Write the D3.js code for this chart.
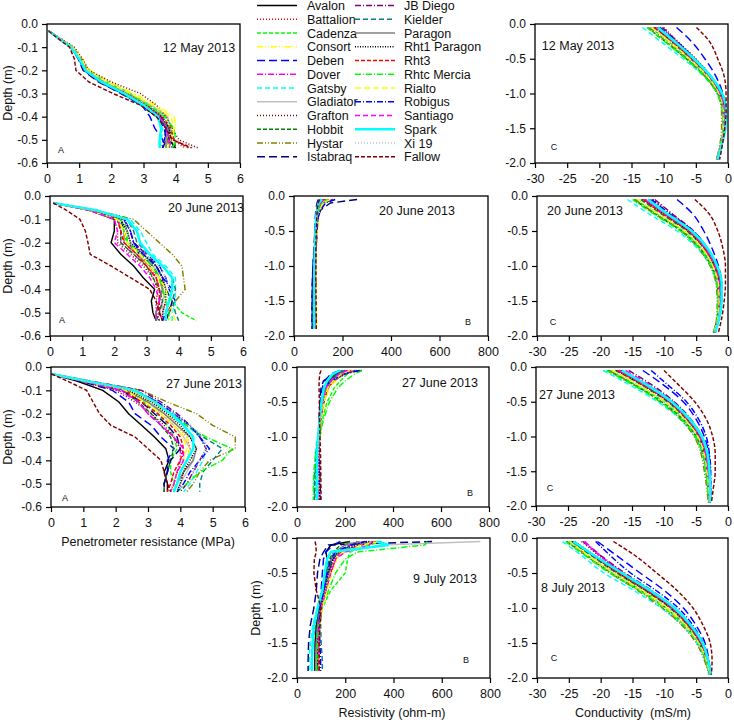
<!DOCTYPE html>
<html><head><meta charset="utf-8">
<script src="https://cdn.jsdelivr.net/npm/d3@7"></script>
<style>
body{margin:0;background:#fff;}
svg{font-family:"Liberation Sans",Arial,sans-serif;}
</style></head>
<body><svg id="c" width="734" height="720"></svg>
<script>
const varieties = ["Avalon","Battalion","Cadenza","Consort","Deben","Dover","Gatsby","Gladiator","Grafton","Hobbit","Hystar","Istabraq","JB Diego","Kielder","Paragon","Rht1 Paragon","Rht3","Rhtc Mercia","Rialto","Robigus","Santiago","Spark","Xi 19","Fallow"];

// depth grids (m)
const depthPen = [-0.03,-0.06,-0.1,-0.15,-0.2,-0.25,-0.3,-0.35,-0.4,-0.45,-0.5,-0.535];
const depthRes = [-0.05,-0.1,-0.2,-0.3,-0.5,-0.75,-1.0,-1.25,-1.5,-1.75,-1.9];
const depthCond = [-0.05,-0.25,-0.5,-0.75,-1.0,-1.25,-1.5,-1.75,-1.95];

// tick labels
const ticksPenX = [0,1,2,3,4,5,6];
const ticksPenY = [0,-0.1,-0.2,-0.3,-0.4,-0.5,-0.6];
const ticksResX = [0,200,400,600,800];
const ticksDeepY = [0,-0.5,-1.0,-1.5,-2.0];
const ticksCondX = [-30,-25,-20,-15,-10,-5,0];

// Penetrometer resistance (MPa), one row per variety
const pen12May = [
[0.05,0.35,0.78,1.02,1.25,1.75,2.45,3.05,3.5,3.7,3.8,4.0],
[0.05,0.33,0.72,0.98,1.2,1.8,2.5,3.1,3.6,3.8,3.9,4.3],
[0.06,0.38,0.8,1.05,1.3,1.9,2.6,3.2,3.7,3.9,3.85,3.7],
[0.05,0.36,0.82,1.1,1.35,1.95,2.7,3.4,3.95,4.0,3.8,3.6],
[0.05,0.34,0.75,1.0,1.2,1.7,2.35,2.95,3.2,3.35,3.6,3.6],
[0.05,0.35,0.77,1.03,1.22,1.72,2.4,3.0,3.45,3.7,3.75,3.8],
[0.04,0.34,0.74,0.98,1.15,1.6,2.3,2.9,3.4,3.6,3.55,3.5],
[0.05,0.37,0.8,1.08,1.3,1.85,2.55,3.25,3.75,3.85,3.7,3.7],
[0.05,0.4,0.85,1.1,1.3,2.0,2.9,3.4,3.7,3.9,4.1,4.7],
[0.05,0.35,0.76,1.0,1.18,1.68,2.38,3.0,3.55,3.85,3.95,4.0],
[0.05,0.36,0.79,1.05,1.25,1.78,2.5,3.1,3.6,3.8,3.75,3.8],
[0.05,0.33,0.73,0.97,1.12,1.6,2.3,2.95,3.4,3.65,3.7,3.6],
[0.05,0.35,0.78,1.02,1.2,1.72,2.42,3.05,3.55,3.75,3.8,3.9],
[0.05,0.36,0.8,1.04,1.22,1.75,2.5,3.1,3.6,3.8,3.85,3.8],
[0.05,0.34,0.76,1.0,1.17,1.65,2.35,3.0,3.5,3.75,3.7,3.7],
[0.05,0.35,0.77,1.02,1.2,1.7,2.45,3.05,3.55,3.8,3.85,3.95],
[0.05,0.36,0.78,1.03,1.22,1.74,2.48,3.08,3.6,3.85,3.95,4.4],
[0.05,0.35,0.79,1.04,1.25,1.8,2.55,3.15,3.65,3.95,4.0,3.9],
[0.05,0.37,0.8,1.06,1.28,1.85,2.6,3.3,3.85,3.95,3.85,3.75],
[0.05,0.34,0.74,0.99,1.15,1.65,2.35,2.95,3.45,3.7,3.65,3.55],
[0.05,0.35,0.76,1.01,1.2,1.7,2.4,3.0,3.5,3.7,3.8,3.85],
[0.05,0.34,0.75,1.0,1.2,1.7,2.4,3.0,3.45,3.55,3.5,3.5],
[0.05,0.36,0.78,1.04,1.25,1.8,2.5,3.1,3.6,3.85,4.0,4.6],
[0.05,0.32,0.7,0.85,0.9,1.3,2.05,2.9,3.4,3.7,3.9,4.5]];
const pen20Jun = [
[0.1,1.2,2.0,2.0,1.9,2.2,2.6,2.9,3.25,3.15,3.2,3.3],
[0.1,1.3,2.2,2.4,2.5,2.8,3.1,3.3,3.5,3.6,3.5,3.6],
[0.1,1.3,2.3,2.4,2.4,2.9,3.3,3.5,3.6,3.8,4.1,4.55],
[0.1,1.2,2.1,2.3,2.3,2.7,3.0,3.3,3.5,3.7,3.6,3.7],
[0.1,1.3,2.3,2.5,2.6,3.0,3.4,3.6,3.7,3.9,3.7,3.6],
[0.1,1.2,2.1,2.2,2.2,2.6,3.0,3.3,3.4,3.5,3.4,3.5],
[0.1,1.4,2.5,2.8,3.0,3.2,3.6,3.9,3.9,3.9,3.8,3.8],
[0.1,1.3,2.2,2.4,2.5,2.9,3.2,3.5,3.6,3.5,3.5,3.5],
[0.1,1.2,2.0,2.1,2.1,2.5,2.9,3.2,3.35,3.3,3.3,3.4],
[0.1,1.2,2.1,2.2,2.2,2.6,3.0,3.2,3.4,3.5,3.4,3.3],
[0.1,1.4,2.6,3.0,3.4,3.8,4.1,4.15,4.2,3.9,3.6,3.6],
[0.1,1.3,2.2,2.3,2.4,2.8,3.2,3.4,3.6,3.8,3.7,3.6],
[0.1,1.3,2.3,2.5,2.6,3.0,3.3,3.5,3.5,3.4,3.3,3.4],
[0.1,1.4,2.4,2.6,2.7,3.1,3.5,3.8,3.9,3.8,3.9,4.0],
[0.1,1.2,2.1,2.3,2.3,2.7,3.1,3.4,3.5,3.4,3.3,3.3],
[0.1,1.3,2.2,2.4,2.5,2.9,3.3,3.5,3.6,3.6,3.5,3.5],
[0.1,1.2,2.1,2.2,2.3,2.7,3.0,3.3,3.4,3.4,3.4,3.5],
[0.1,1.3,2.2,2.3,2.4,2.8,3.2,3.4,3.5,3.6,3.7,3.7],
[0.1,1.2,2.1,2.3,2.4,2.8,3.1,3.4,3.6,3.7,3.8,3.9],
[0.1,1.3,2.3,2.5,2.6,2.9,3.3,3.5,3.8,3.7,3.6,3.5],
[0.1,1.2,2.0,2.1,2.0,2.4,2.8,3.1,3.3,3.4,3.3,3.3],
[0.1,1.4,2.4,2.7,2.8,3.1,3.5,3.8,3.8,3.7,3.6,3.6],
[0.1,1.3,2.3,2.5,2.7,3.0,3.4,3.6,3.7,3.6,3.7,3.8],
[0.1,0.5,0.93,1.1,1.18,1.25,1.9,2.5,3.1,3.3,3.4,3.5]];
const pen27Jun = [
[0.02,0.8,1.6,2.1,2.4,2.8,3.2,3.55,3.65,3.5,3.6,3.6],
[0.02,1.0,2.3,3.0,3.5,3.9,4.2,4.3,4.2,4.1,4.0,3.9],
[0.02,1.0,2.2,2.9,3.3,3.6,3.8,3.9,3.7,3.7,3.8,3.8],
[0.02,1.1,2.4,3.1,3.6,3.9,4.2,4.3,4.2,4.0,3.9,3.8],
[0.02,0.9,1.9,2.4,2.6,3.1,3.4,3.8,3.6,3.6,3.5,3.5],
[0.02,1.0,2.1,2.7,3.0,3.4,3.8,4.0,4.0,3.9,3.8,3.7],
[0.02,1.1,2.5,3.3,3.8,4.2,4.6,4.8,4.7,4.5,4.3,4.1],
[0.02,1.0,2.3,3.0,3.4,3.8,4.1,4.3,4.4,4.2,4.0,3.9],
[0.02,0.9,2.0,2.6,3.1,3.5,3.8,4.0,4.1,3.9,3.8,3.7],
[0.02,1.0,2.2,2.7,3.1,3.4,3.7,3.8,3.7,3.6,3.5,3.5],
[0.02,1.2,2.8,3.6,4.5,5.0,5.7,5.7,4.9,4.6,4.4,4.2],
[0.02,1.0,2.2,2.8,3.2,3.6,3.9,4.0,3.7,3.6,3.5,3.5],
[0.02,1.2,2.8,3.4,3.9,4.3,4.6,4.8,4.6,4.4,4.2,4.0],
[0.02,1.1,2.6,3.3,3.7,4.2,4.7,5.3,5.0,4.7,4.6,4.6],
[0.02,1.0,2.3,3.0,3.5,3.9,4.3,4.5,4.4,4.1,3.9,3.8],
[0.02,1.0,2.4,3.1,3.6,4.0,4.3,4.5,4.3,4.1,4.0,3.9],
[0.02,1.0,2.3,2.8,3.3,3.7,4.0,4.1,4.0,3.8,3.7,3.6],
[0.02,1.1,2.5,3.2,3.7,4.2,4.8,5.6,5.3,4.6,4.2,3.9],
[0.02,1.0,2.3,2.9,3.4,3.8,4.1,4.2,4.1,3.9,3.8,3.7],
[0.02,1.1,2.6,3.3,3.8,4.3,4.6,4.9,4.6,4.3,4.1,3.9],
[0.02,1.0,2.2,2.7,3.0,3.4,3.8,4.1,4.1,3.9,3.8,3.7],
[0.02,1.1,2.6,3.2,3.7,4.1,4.4,4.4,4.2,4.0,3.9,3.8],
[0.02,1.1,2.5,3.2,3.8,4.3,4.7,4.8,4.6,4.4,4.3,4.2],
[0.02,0.5,1.1,1.3,1.5,1.85,2.6,3.0,3.4,3.5,3.6,3.7]];

// Resistivity (ohm-m)
const res20Jun = [
[110,100,95,92,90,88,85,84,84,84,84],
[130,110,100,95,92,90,88,88,87,87,87],
[120,105,98,94,92,88,84,82,80,80,80],
[140,115,105,100,96,92,90,90,90,90,90],
[100,95,90,88,86,82,78,76,75,75,75],
[125,108,100,95,92,89,86,85,85,85,85],
[110,100,94,90,88,85,82,80,80,79,79],
[150,120,105,98,94,90,87,86,86,86,86],
[135,112,102,97,93,90,88,88,88,88,88],
[105,98,93,90,88,85,82,80,79,79,79],
[145,118,106,99,95,92,90,90,90,91,91],
[260,150,110,98,90,84,78,75,74,74,74],
[160,125,108,100,95,91,89,89,89,90,90],
[115,102,96,92,89,86,83,82,81,81,81],
[120,106,98,94,91,88,86,85,85,85,85],
[130,110,100,95,92,89,87,87,87,87,87],
[125,108,99,94,91,88,86,86,86,86,86],
[140,114,103,97,93,89,85,83,82,82,82],
[150,120,108,101,96,92,90,91,92,93,93],
[170,130,110,100,94,90,87,86,86,86,86],
[120,105,98,94,91,88,86,86,86,86,86],
[115,102,96,92,89,86,84,84,84,84,84],
[135,113,102,96,92,89,87,86,86,86,86],
[105,100,96,94,92,90,90,90,91,92,92]];
const res27Jun = [
[200,160,130,115,105,95,90,85,84,84,84],
[250,200,150,125,110,98,92,90,90,90,90],
[230,210,180,155,125,105,95,88,86,86,86],
[210,190,160,135,115,100,92,88,88,88,88],
[180,140,115,105,98,92,88,85,84,84,84],
[220,180,140,120,108,97,90,87,86,86,86],
[200,170,140,120,105,95,85,75,72,72,72],
[240,190,150,125,110,98,90,87,86,86,86],
[260,200,150,125,110,98,92,90,90,90,90],
[190,160,130,115,105,95,88,80,76,75,75],
[230,190,155,130,112,98,92,90,90,90,90],
[270,150,110,100,95,92,90,92,95,97,97],
[210,170,135,115,102,93,88,86,86,86,86],
[200,170,140,120,106,96,88,80,74,72,72],
[220,180,145,122,108,97,90,86,85,85,85],
[240,195,150,125,110,98,92,90,90,90,90],
[230,190,150,128,112,100,94,92,92,93,93],
[270,240,200,170,135,110,95,78,70,68,68],
[220,185,150,128,112,100,92,88,88,88,88],
[260,200,140,115,100,93,90,90,92,94,94],
[210,175,140,120,106,96,90,87,86,86,86],
[180,150,125,112,102,94,88,84,83,83,83],
[230,190,150,125,110,98,92,90,90,92,92],
[100,95,92,92,93,94,96,98,99,100,100]];
const res9Jul = [
[220,140,120,125,120,110,95,80,75,74,74],
[300,230,170,150,130,110,95,88,86,86,86],
[350,300,220,210,200,140,105,90,85,80,78],
[320,250,180,160,140,120,100,90,88,88,88],
[180,150,120,110,105,100,92,85,80,78,78],
[280,220,170,150,130,115,100,90,85,84,84],
[300,270,170,140,125,110,85,65,55,50,50],
[760,350,200,160,135,115,100,88,82,80,80],
[250,200,160,145,128,112,98,88,85,85,85],
[220,180,150,135,120,105,90,75,65,60,60],
[350,260,180,150,135,118,102,92,90,90,90],
[560,130,110,95,85,80,70,55,48,46,46],
[330,260,180,150,132,112,96,88,86,86,86],
[280,230,170,145,130,115,102,98,100,105,105],
[260,200,155,140,125,110,95,85,80,78,78],
[300,240,170,150,130,112,98,90,88,88,88],
[320,260,180,160,140,120,100,92,90,90,90],
[540,530,250,200,160,130,105,90,85,82,82],
[340,270,190,165,145,125,105,95,92,92,92],
[290,220,160,140,125,110,95,92,95,98,98],
[310,300,200,160,140,120,100,92,90,90,90],
[330,380,140,125,115,105,85,70,65,62,62],
[320,250,180,155,135,118,102,95,92,92,92],
[75,78,80,72,70,80,100,95,92,92,92]];

// Conductivity (mS/m)
const cond12May = [
[-11,-8.4,-5.4,-2.8,-1.1,-0.5,-0.6,-1.1,-1.7],
[-11.5,-8.8,-5.7,-3.0,-1.2,-0.6,-0.7,-1.2,-1.8],
[-12,-9.3,-6.2,-3.4,-1.5,-0.7,-0.7,-1.1,-1.7],
[-11.8,-9.0,-5.9,-3.2,-1.4,-0.7,-0.7,-1.2,-1.7],
[-8.0,-5.7,-3.6,-1.9,-0.8,-0.4,-0.5,-1.0,-1.6],
[-10.5,-8.0,-5.2,-2.7,-1.1,-0.5,-0.6,-1.1,-1.7],
[-13.3,-10.5,-7.0,-3.8,-1.6,-0.8,-0.8,-1.2,-1.8],
[-11.2,-8.6,-5.6,-3.0,-1.2,-0.6,-0.6,-1.1,-1.7],
[-10.0,-7.8,-5.0,-2.6,-1.0,-0.5,-0.6,-1.1,-1.7],
[-12.5,-9.8,-6.5,-3.6,-1.6,-0.8,-0.7,-1.1,-1.7],
[-12.2,-9.6,-6.4,-3.6,-1.7,-1.0,-1.0,-1.3,-1.8],
[-10.8,-8.2,-5.3,-2.8,-1.1,-0.5,-0.6,-1.1,-1.7],
[-10.2,-7.9,-5.2,-2.7,-1.1,-0.5,-0.6,-1.1,-1.7],
[-11.6,-8.9,-5.8,-3.1,-1.3,-0.6,-0.6,-1.1,-1.7],
[-11.0,-8.5,-5.5,-2.9,-1.2,-0.6,-0.6,-1.1,-1.7],
[-11.3,-8.7,-5.6,-3.0,-1.2,-0.6,-0.6,-1.1,-1.7],
[-11.4,-8.7,-5.7,-3.0,-1.2,-0.6,-0.6,-1.1,-1.7],
[-12.6,-9.9,-6.6,-3.7,-1.7,-0.9,-0.8,-1.2,-1.8],
[-11.9,-9.1,-6.0,-3.2,-1.4,-0.7,-0.7,-1.1,-1.7],
[-10.6,-8.1,-5.2,-2.7,-1.0,-0.4,-0.5,-1.0,-1.6],
[-11.1,-8.5,-5.5,-2.9,-1.2,-0.6,-0.6,-1.1,-1.7],
[-10.9,-8.3,-5.3,-2.7,-0.9,-0.3,-0.4,-1.0,-1.6],
[-12.0,-9.3,-6.1,-3.3,-1.4,-0.7,-0.7,-1.2,-1.8],
[-4.9,-2.9,-1.6,-0.6,-0.3,-0.3,-0.5,-0.9,-1.3]];
const cond20Jun = [
[-13,-10,-6.0,-3.5,-2.0,-1.3,-1.2,-1.5,-2.1],
[-13.5,-10.4,-6.3,-3.7,-2.1,-1.4,-1.3,-1.6,-2.2],
[-14.5,-11.3,-7.0,-4.2,-2.5,-1.6,-1.4,-1.6,-2.2],
[-14,-10.9,-6.7,-4.0,-2.3,-1.5,-1.4,-1.6,-2.2],
[-8.0,-5.6,-3.8,-2.5,-1.5,-1.0,-1.0,-1.4,-2.0],
[-12.2,-9.4,-5.7,-3.3,-1.9,-1.2,-1.2,-1.5,-2.1],
[-15.8,-12.5,-8.0,-4.8,-2.8,-1.8,-1.5,-1.7,-2.3],
[-13.2,-10.2,-6.2,-3.6,-2.1,-1.4,-1.3,-1.5,-2.1],
[-11.8,-9.0,-5.5,-3.2,-1.8,-1.2,-1.2,-1.5,-2.1],
[-14.8,-11.6,-7.3,-4.4,-2.6,-1.7,-1.5,-1.7,-2.3],
[-14.6,-11.5,-7.4,-4.6,-2.8,-1.9,-1.7,-1.8,-2.3],
[-12.5,-9.6,-5.8,-3.4,-1.9,-1.2,-1.2,-1.5,-2.1],
[-11.5,-8.8,-5.4,-3.2,-1.8,-1.2,-1.2,-1.5,-2.1],
[-13.7,-10.6,-6.5,-3.8,-2.2,-1.4,-1.3,-1.6,-2.2],
[-13.1,-10.1,-6.1,-3.6,-2.0,-1.3,-1.2,-1.5,-2.1],
[-13.4,-10.3,-6.3,-3.7,-2.1,-1.4,-1.3,-1.5,-2.1],
[-13.3,-10.3,-6.2,-3.7,-2.1,-1.4,-1.3,-1.6,-2.2],
[-15,-11.8,-7.5,-4.5,-2.7,-1.8,-1.6,-1.7,-2.3],
[-14.1,-11,-6.8,-4.0,-2.4,-1.5,-1.4,-1.6,-2.2],
[-12,-9.2,-5.5,-3.2,-1.8,-1.1,-1.1,-1.4,-2.0],
[-13,-10,-6.0,-3.6,-2.0,-1.3,-1.2,-1.5,-2.1],
[-12.6,-9.6,-5.7,-3.2,-1.7,-1.0,-1.0,-1.4,-2.0],
[-14.2,-11.1,-6.9,-4.1,-2.4,-1.6,-1.4,-1.6,-2.2],
[-5.2,-3.0,-1.6,-0.8,-0.4,-0.4,-0.6,-1.0,-1.5]];
const cond27Jun = [
[-17,-13,-9,-6.2,-4.3,-3.5,-3.1,-2.9,-2.9],
[-17.5,-13.5,-9.3,-6.4,-4.5,-3.6,-3.2,-3.0,-2.9],
[-18.5,-14.5,-10,-6.9,-4.8,-3.8,-3.3,-3.0,-2.9],
[-18,-14,-9.6,-6.6,-4.6,-3.7,-3.3,-3.0,-2.9],
[-13.3,-10.2,-7.0,-5.0,-3.7,-3.0,-2.8,-2.7,-2.8],
[-16,-12.4,-8.6,-6.0,-4.2,-3.4,-3.0,-2.9,-2.9],
[-19.5,-15.5,-11,-7.5,-5.2,-4.0,-3.5,-3.2,-3.0],
[-17.2,-13.3,-9.2,-6.4,-4.5,-3.6,-3.2,-3.0,-2.9],
[-16.5,-12.8,-8.8,-6.1,-4.3,-3.5,-3.1,-2.9,-2.9],
[-18.8,-14.8,-10.4,-7.1,-5.0,-3.9,-3.4,-3.1,-3.0],
[-18.6,-14.8,-10.6,-7.4,-5.3,-4.2,-3.7,-3.3,-3.1],
[-16.8,-13,-9,-6.2,-4.3,-3.4,-3.0,-2.8,-2.8],
[-15.5,-12,-8.4,-5.8,-4.1,-3.3,-3.0,-2.9,-2.9],
[-17.6,-13.7,-9.5,-6.6,-4.6,-3.7,-3.2,-3.0,-2.9],
[-17.1,-13.2,-9.1,-6.3,-4.4,-3.5,-3.1,-2.9,-2.9],
[-17.4,-13.5,-9.3,-6.4,-4.5,-3.6,-3.2,-3.0,-2.9],
[-17.3,-13.4,-9.2,-6.4,-4.5,-3.6,-3.2,-3.0,-2.9],
[-19,-15,-10.6,-7.3,-5.1,-4.0,-3.5,-3.2,-3.0],
[-18.1,-14.1,-9.8,-6.8,-4.7,-3.7,-3.3,-3.0,-2.9],
[-12,-9.5,-6.5,-4.6,-3.4,-2.9,-2.7,-2.7,-2.8],
[-17,-13.2,-9.1,-6.3,-4.4,-3.5,-3.1,-2.9,-2.9],
[-16.6,-12.8,-8.8,-6.0,-4.1,-3.2,-2.9,-2.8,-2.8],
[-18.2,-14.2,-9.9,-6.9,-4.8,-3.8,-3.3,-3.1,-2.9],
[-10,-7.8,-5.2,-3.4,-2.4,-2.0,-2.0,-2.3,-2.6]];
const cond8Jul = [
[-24.5,-21.2,-17,-12.5,-8.6,-6.0,-4.2,-3.2,-2.8],
[-24,-21,-17.2,-12.8,-8.9,-6.2,-4.3,-3.3,-2.8],
[-25,-22,-18,-13.5,-9.6,-6.6,-4.5,-3.4,-2.9],
[-24.8,-21.8,-17.8,-13.3,-9.4,-6.5,-4.5,-3.4,-2.9],
[-20.5,-17.5,-13.8,-10,-7.0,-5.0,-3.6,-3.0,-2.7],
[-22.5,-20,-16.5,-12.3,-8.6,-6.0,-4.2,-3.2,-2.8],
[-26,-23,-19.5,-14.8,-10.5,-7.2,-4.9,-3.6,-3.0],
[-24.2,-21.3,-17.3,-12.9,-9.0,-6.2,-4.3,-3.3,-2.8],
[-23,-20.3,-16.6,-12.4,-8.7,-6.1,-4.3,-3.2,-2.8],
[-25.3,-22.3,-18.3,-13.8,-9.8,-6.8,-4.6,-3.5,-2.9],
[-25,-22.2,-18.5,-14.2,-10.3,-7.2,-5.0,-3.7,-3.0],
[-24.3,-21,-16.8,-12.4,-8.6,-5.9,-4.1,-3.1,-2.7],
[-22.8,-20,-16.2,-12,-8.4,-5.9,-4.1,-3.1,-2.7],
[-24.6,-21.5,-17.5,-13,-9.1,-6.3,-4.4,-3.3,-2.8],
[-24.1,-21.1,-17.1,-12.7,-8.8,-6.1,-4.2,-3.2,-2.8],
[-24.4,-21.3,-17.3,-12.9,-9.0,-6.2,-4.3,-3.3,-2.8],
[-24.2,-21.2,-17.2,-12.8,-8.9,-6.2,-4.3,-3.3,-2.8],
[-25.5,-22.5,-18.6,-14,-10,-6.9,-4.7,-3.5,-2.9],
[-24.9,-22,-18,-13.6,-9.7,-6.7,-4.6,-3.4,-2.9],
[-20.8,-18.5,-15.3,-11.3,-7.8,-5.5,-3.9,-3.1,-2.7],
[-22.6,-20.2,-16.6,-12.4,-8.7,-6.0,-4.2,-3.2,-2.8],
[-24.3,-21,-16.7,-12.2,-8.4,-5.8,-4.0,-3.1,-2.7],
[-25.1,-22.1,-18.1,-13.6,-9.7,-6.7,-4.6,-3.4,-2.9],
[-18,-14.6,-11.2,-8,-5.5,-3.9,-2.8,-2.5,-2.6]];

// ---- styles (separate from data) ----
const colors = ["#000000","#ff0000","#00ff00","#ffff00","#0000ff","#ff00ff","#00ffff","#c0c0c0","#800000","#008000","#808000","#000080",
                "#800080","#008080","#808080","#000000","#ff0000","#00ff00","#ffff00","#0000ff","#ff00ff","#00ffff","#c0c0c0","#800000"];
const dashes = [null,"1,2","4,2","6,2,1,2,1,2","8,4","6,2,1,2","5,3",null,"1,2","4,2","6,2,1,2,1,2","8,4",
                "6,2,1,2","5,3",null,"1,1.5","4,2","6,2,1,2","6,3","6,2,1,2","5,3",null,"1,2","4,2"];
const widths = varieties.map((v,i)=> i===21 ? 2.5 : 1.45);

const loc = d3.formatLocale({decimal:".",thousands:",",grouping:[3],currency:["",""],minus:"-"});
const f1 = loc.format(".1f"), f0 = loc.format("d");

const svg = d3.select("#c");

const panels = [
 {data:pen12May, depth:depthPen, xd:[0,6], yd:[0,-0.6], xr:[47,240], yr:[24,163], xt:ticksPenX, yt:ticksPenY, curve:d3.curveLinear,
  date:"12 May 2013", dx:199, dy:52, let:"A", lx:61, ly:153, ylab:[12,93]},
 {data:pen20Jun, depth:depthPen, xd:[0,6], yd:[0,-0.6], xr:[50,243], yr:[196,336], xt:ticksPenX, yt:ticksPenY, curve:d3.curveLinear,
  date:"20 June 2013", dx:206, dy:212, let:"A", lx:62, ly:323, ylab:[12,266]},
 {data:pen27Jun, depth:depthPen, xd:[0,6], yd:[0,-0.6], xr:[51,245], yr:[367,507], xt:ticksPenX, yt:ticksPenY, curve:d3.curveLinear,
  date:"27 June 2013", dx:204, dy:388, let:"A", lx:65, ly:501, ylab:[12,437]},
 {data:res20Jun, depth:depthRes, xd:[0,800], yd:[0,-2], xr:[294,488], yr:[196,336], xt:ticksResX, yt:ticksDeepY, curve:d3.curveLinear,
  date:"20 June 2013", dx:417, dy:215, let:"B", lx:468, ly:325},
 {data:res27Jun, depth:depthRes, xd:[0,800], yd:[0,-2], xr:[297,489], yr:[367,507], xt:ticksResX, yt:ticksDeepY, curve:d3.curveLinear,
  date:"27 June 2013", dx:440, dy:387, let:"B", lx:470, ly:496},
 {data:res9Jul, depth:depthRes, xd:[0,800], yd:[0,-2], xr:[297,490], yr:[538,678], xt:ticksResX, yt:ticksDeepY, curve:d3.curveLinear,
  date:"9 July 2013", dx:445, dy:583, let:"B", lx:466, ly:663, ylab:[260,608]},
 {data:cond12May, depth:depthCond, xd:[-30,0], yd:[0,-2], xr:[535,728], yr:[24,163], xt:ticksCondX, yt:ticksDeepY, curve:d3.curveMonotoneY,
  date:"12 May 2013", dx:578, dy:50, let:"C", lx:554, ly:150},
 {data:cond20Jun, depth:depthCond, xd:[-30,0], yd:[0,-2], xr:[537,728], yr:[196,336], xt:ticksCondX, yt:ticksDeepY, curve:d3.curveMonotoneY,
  date:"20 June 2013", dx:585, dy:215, let:"C", lx:553, ly:325},
 {data:cond27Jun, depth:depthCond, xd:[-30,0], yd:[0,-2], xr:[536,728], yr:[367,506], xt:ticksCondX, yt:ticksDeepY, curve:d3.curveMonotoneY,
  date:"27 June 2013", dx:577, dy:399, let:"C", lx:550, ly:491},
 {data:cond8Jul, depth:depthCond, xd:[-30,0], yd:[0,-2], xr:[537,728], yr:[538,678], xt:ticksCondX, yt:ticksDeepY, curve:d3.curveMonotoneY,
  date:"8 July 2013", dx:573, dy:592, let:"C", lx:554, ly:661}
];

panels.forEach((p,pi)=>{
  const x = d3.scaleLinear().domain(p.xd).range(p.xr);
  const y = d3.scaleLinear().domain(p.yd).range(p.yr);
  const g = svg.append("g");
  const cid = "clip"+pi;
  g.append("clipPath").attr("id",cid).append("rect")
    .attr("x",p.xr[0]).attr("y",p.yr[0]).attr("width",p.xr[1]-p.xr[0]).attr("height",p.yr[1]-p.yr[0]);
  const line = d3.line().x(d=>x(d[0])).y(d=>y(d[1])).curve(p.curve);
  const lg = g.append("g").attr("clip-path",`url(#${cid})`);
  p.data.forEach((row,i)=>{
    const pts = row.map((v,j)=>[v,p.depth[j]]);
    lg.append("path").attr("d",line(pts)).attr("fill","none")
      .attr("stroke",colors[i]).attr("stroke-width",widths[i])
      .attr("stroke-dasharray",dashes[i]);
  });
  g.append("g").attr("transform",`translate(0,${p.yr[1]})`)
    .call(d3.axisBottom(x).tickValues(p.xt).tickFormat(f0).tickSize(5).tickSizeOuter(0).tickPadding(6))
    .call(a=>{a.select(".domain").remove(); a.selectAll("text").attr("font-size",12.5).attr("font-family","Liberation Sans, Arial, sans-serif").attr("fill","#111");
              a.selectAll("line").attr("stroke-width",1.2);});
  g.append("g").attr("transform",`translate(${p.xr[0]},0)`)
    .call(d3.axisLeft(y).tickValues(p.yt).tickFormat(f1).tickSize(5).tickSizeOuter(0).tickPadding(4))
    .call(a=>{a.select(".domain").remove(); a.selectAll("text").attr("font-size",12).attr("font-family","Liberation Sans, Arial, sans-serif").attr("fill","#111");
              a.selectAll("line").attr("stroke-width",1.2);});
  g.append("rect").attr("x",p.xr[0]).attr("y",p.yr[0]).attr("width",p.xr[1]-p.xr[0]).attr("height",p.yr[1]-p.yr[0])
    .attr("fill","none").attr("stroke","#000").attr("stroke-width",1.3);
  g.append("text").attr("x",p.dx).attr("y",p.dy).attr("text-anchor","middle").attr("font-size",12.5).attr("fill","#111").text(p.date);
  g.append("text").attr("x",p.lx).attr("y",p.ly).attr("text-anchor","middle").attr("font-size",9).attr("fill","#111").text(p.let);
  if(p.ylab){
    g.append("text").attr("transform",`translate(${p.ylab[0]},${p.ylab[1]}) rotate(-90)`).attr("text-anchor","middle")
      .attr("font-size",12.5).attr("fill","#111").text("Depth (m)");
  }
});

// axis titles
svg.append("text").attr("x",148).attr("y",546).attr("text-anchor","middle").attr("font-size",12.5).attr("fill","#111").text("Penetrometer resistance (MPa)");
svg.append("text").attr("x",392).attr("y",717).attr("text-anchor","middle").attr("font-size",12.5).attr("fill","#111").text("Resistivity (ohm-m)");
svg.append("text").attr("x",633).attr("y",717).attr("text-anchor","middle").attr("font-size",12.5).attr("fill","#111")
  .attr("xml:space","preserve").style("white-space","pre").text("Conductivity  (mS/m)");

// legend
const leg = svg.append("g");
varieties.forEach((v,i)=>{
  const col = Math.floor(i/12), row = i%12;
  const lx0 = col===0 ? 257 : 355, tx = col===0 ? 307 : 404;
  const yy = 5.5 + row*13.75;
  leg.append("line").attr("x1",lx0).attr("x2",lx0+40).attr("y1",yy).attr("y2",yy)
    .attr("stroke",colors[i]).attr("stroke-width",widths[i]).attr("stroke-dasharray",dashes[i]);
  leg.append("text").attr("x",tx).attr("y",yy+4.5).attr("font-size",12.5).attr("fill","#111").text(v);
});
</script></body></html>
